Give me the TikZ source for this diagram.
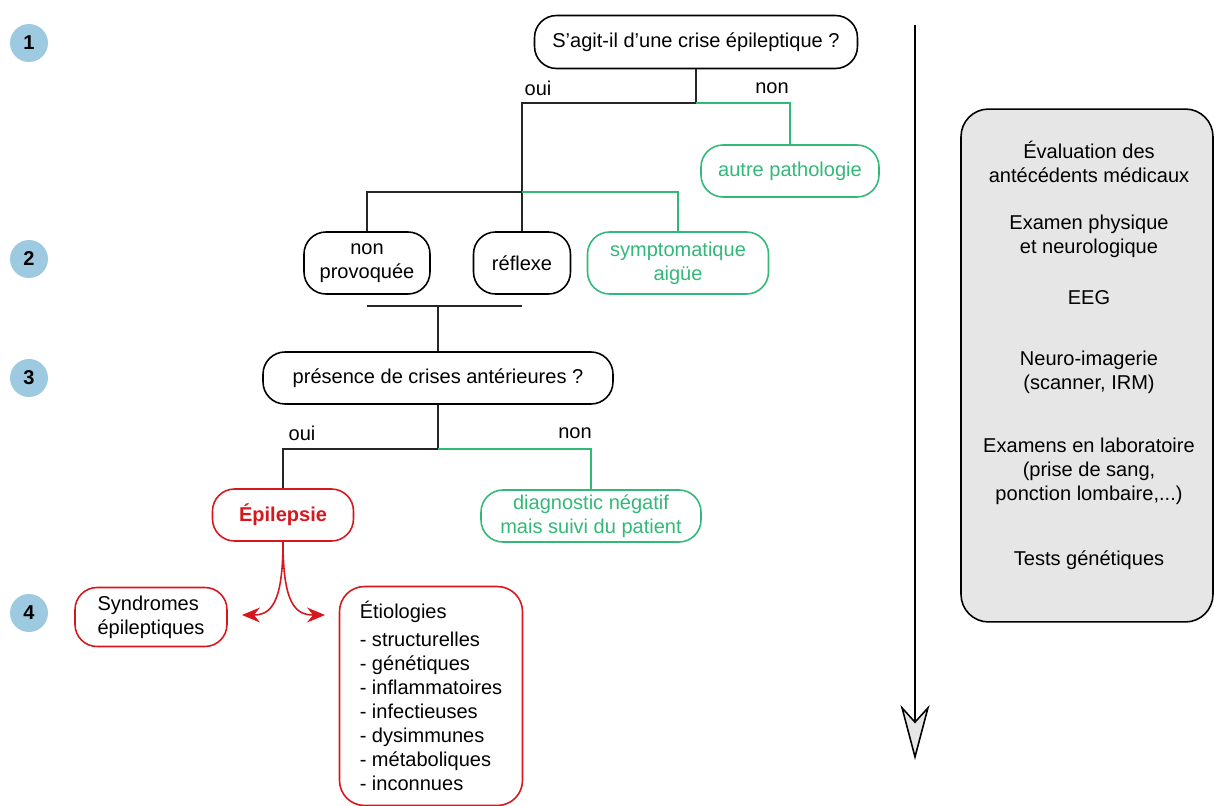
\documentclass[tikz,border=0pt]{standalone}
\usepackage{fontspec}
\setmainfont{Liberation Sans}
\usetikzlibrary{arrows.meta}
\definecolor{vert}{RGB}{50,184,120}
\definecolor{rouge}{RGB}{214,24,30}
\definecolor{gris}{RGB}{230,230,230}
\definecolor{bleu}{RGB}{158,202,225}
\tikzset{%
  pill/.style={draw,rounded corners=0.44cm,line width=0.9pt,align=center,inner sep=1pt,font=\fontsize{11.4}{13.7}\selectfont},
  bnode/.style={pill,draw=black},
  gnode/.style={pill,draw=vert,text=vert},
  rnode/.style={pill,draw=rouge},
  ndot/.style={shape=circle,fill=bleu,minimum size=0.76cm,inner sep=0,font=\fontsize{11.4}{13.7}\selectfont\bfseries},
  lbl/.style={font=\fontsize{11.4}{13.7}\selectfont,align=center},
  bedge/.style={draw=black!85,line width=0.8pt},
  gedge/.style={draw=vert,line width=0.8pt},
  redge/.style={draw=rouge,line width=0.9pt,-{Stealth[length=0.36cm,width=0.3cm,inset=0.12cm]}},
  tedge/.style={draw=black,line width=0.9pt,-{Stealth[length=1.1cm,width=0.58cm,inset=0.32cm,fill=gris]}}
}
\begin{document}
\begin{tikzpicture}[x=0.02cm,y=-0.02cm]
  \useasboundingbox (0,0) rectangle (1214,805);
  % step numbers
  \path
    (29,43) node[ndot] (n_1) {1}
    (29,259) node[ndot] (n_2) {2}
    (29,378) node[ndot] (n_3) {3}
    (29,613) node[ndot] (n_4) {4};
  % decision tree
  \path
    (696,42) node[bnode,minimum width=6.46cm,minimum height=1.06cm] (crise) {S’agit-il d’une crise épileptique ?}
    (790,171) node[gnode,minimum width=3.56cm,minimum height=1.04cm] (autre) {autre pathologie}
    (367,263) node[bnode,minimum width=2.52cm,minimum height=1.24cm] (nonprov) {non\\provoquée}
    (522,263) node[bnode,minimum width=1.94cm,minimum height=1.24cm] (reflexe) {réflexe}
    (678,263) node[gnode,minimum width=3.62cm,minimum height=1.24cm] (sympto) {symptomatique\\aigüe}
    (438,378) node[bnode,minimum width=7cm,minimum height=1.04cm] (presence) {présence de crises antérieures ?}
    (283,515) node[rnode,minimum width=2.82cm,minimum height=1.04cm,text=rouge,font=\fontsize{11.4}{13.7}\selectfont\bfseries] (epi) {Épilepsie}
    (591,516) node[gnode,minimum width=4.4cm,minimum height=1.04cm] (diag) {diagnostic négatif\\mais suivi du patient}
    (151,617) node[rnode,minimum width=3.04cm,minimum height=1.18cm,align=left] (synd) {Syndromes\\épileptiques}
    (431,696) node[rnode,minimum width=3.66cm,minimum height=4.38cm,align=left,rounded corners=0.5cm] (etio) {Étiologies\\[2pt]- structurelles\\- génétiques\\- inflammatoires\\- infectieuses\\- dysimmunes\\- métaboliques\\- inconnues};
  \path
    (538,88) node[lbl] (oui_1) {oui}
    (772,88) node[lbl] (non_1) {non}
    (302,433) node[lbl] (oui_2) {oui}
    (575,433) node[lbl] (non_2) {non};
  % examinations
  \path
    (1087,365.5) node[draw,fill=gris,rounded corners=0.55cm,line width=0.9pt,minimum width=5.04cm,minimum height=10.26cm] (examens) {}
    (1089,162) node[lbl] (t_1) {Évaluation des\\antécédents médicaux}
    (1089,236.5) node[lbl] (t_2) {Examen physique\\et neurologique}
    (1089,298) node[lbl] (t_3) {EEG}
    (1089,372) node[lbl] (t_4) {Neuro-imagerie\\(scanner, IRM)}
    (1089,471) node[lbl] (t_5) {Examens en laboratoire\\(prise de sang,\\ponction lombaire,...)}
    (1089,560) node[lbl] (t_6) {Tests génétiques};
  \coordinate (j_1) at (696,103);
  \coordinate (j_2) at (522,192);
  \coordinate (bar) at (438,306);
  \coordinate (j_3) at (438,449);
  \coordinate (top) at (915,25);
  \coordinate (bot) at (915,760);
  \coordinate (a_1) at (242,615);
  \coordinate (a_2) at (325,615);
  \draw[bedge] (crise.south) -- (j_1) -| (reflexe.north);
  \draw[gedge] (j_1) -| (autre.north);
  \draw[bedge] (j_2) -| (nonprov.north);
  \draw[gedge] (j_2) -| (sympto.north);
  \draw[bedge] (nonprov.south |- bar) -- (reflexe.south |- bar);
  \draw[bedge] (bar) -- (presence.north);
  \draw[bedge] (presence.south) -- (j_3) -| (epi.north);
  \draw[gedge] (j_3) -| (diag.north);
  \draw[redge] (epi.south) .. controls (283,605) and (270,615) .. (a_1);
  \draw[redge] (epi.south) .. controls (283,605) and (296,615) .. (a_2);
  \draw[tedge] (top) -- (bot);
\end{tikzpicture}
\end{document}
